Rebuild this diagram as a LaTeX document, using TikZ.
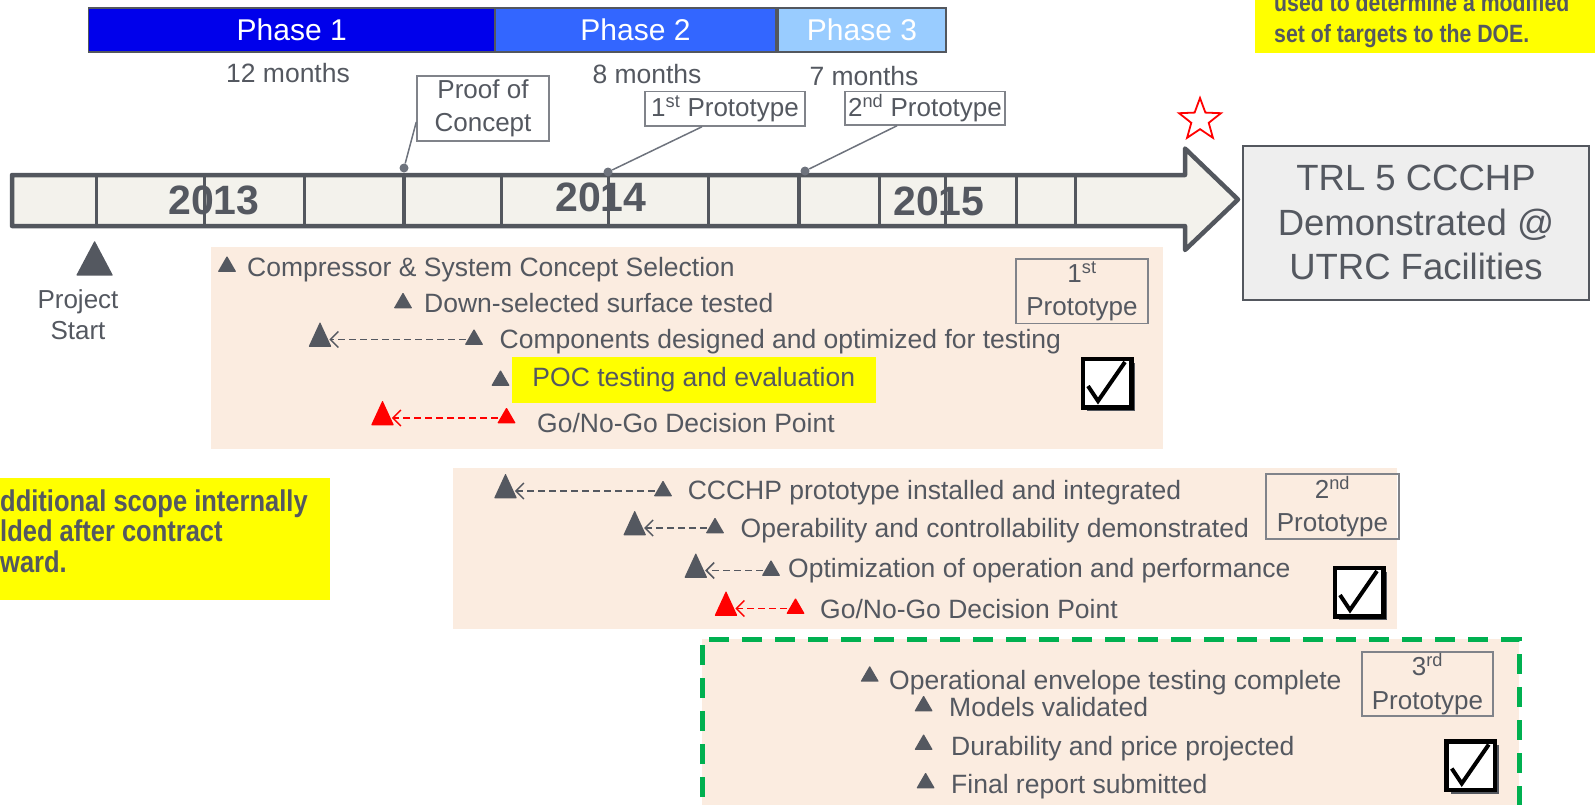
\documentclass[tikz,border=0pt]{standalone}
\usepackage{fontspec}
\setmainfont{Liberation Sans}
\newfontfamily\narrowbold{Liberation Sans Bold}[FakeStretch=0.85]
\usetikzlibrary{positioning,shapes.geometric,arrows.meta,shadows}

\definecolor{txtgray}{RGB}{84,88,96}
\definecolor{linegray}{RGB}{83,87,94}
\definecolor{boxgray}{RGB}{128,131,138}
\definecolor{dotgray}{RGB}{110,115,125}
\definecolor{barfill}{RGB}{243,242,236}
\definecolor{panel}{RGB}{251,236,224}
\definecolor{phaseone}{RGB}{0,0,235}
\definecolor{phasetwo}{RGB}{51,102,255}
\definecolor{phasethree}{RGB}{153,204,255}
\definecolor{hlyellow}{RGB}{255,255,0}
\definecolor{okgreen}{RGB}{0,176,80}
\definecolor{trlfill}{RGB}{238,238,238}

\begin{document}
\begin{tikzpicture}[x=1pt, y=-1pt,
  every node/.style={text=txtgray, font=\fontsize{26.5}{31}\selectfont},
  phase/.style={draw=linegray, line width=1.5pt, minimum height=44pt, inner sep=0pt, text=white, font=\fontsize{30}{36}\selectfont},
  tag/.style={draw=boxgray, line width=1.5pt, align=center, inner sep=0pt, font=\fontsize{26}{32.5}\selectfont},
  dot/.style={circle, fill=dotgray, inner sep=0pt, minimum size=9pt},
  lead/.style={draw=dotgray, line width=1.5pt},
  year/.style={font=\bfseries\fontsize{41}{48}\selectfont, inner sep=0pt},
  ms/.style={isosceles triangle, isosceles triangle stretches, shape border rotate=90, fill=txtgray, inner sep=0pt, minimum width=18.5pt, minimum height=16pt, rounded corners=0.8pt},
  mb/.style={ms, minimum width=23pt, minimum height=25pt},
  item/.style={anchor=base west, inner sep=0pt},
  slip/.style={draw=txtgray, line width=1.5pt, dash pattern=on 7pt off 4pt, -{Straight Barb[length=8pt,width=16pt]}, shorten <=2pt, shorten >=1pt},
  chk/.style={draw=black, line width=4.5pt, fill=white, minimum size=48.5pt, inner sep=0pt,
    drop shadow={shadow xshift=4pt, shadow yshift=-4pt, fill=linegray, opacity=1},
    path picture={\draw[black, line width=4pt, line join=miter]
      ([xshift=-19pt,yshift=-3pt]path picture bounding box.center) --
      ([xshift=-9pt,yshift=-18pt]path picture bounding box.center) --
      ([xshift=18pt,yshift=21pt]path picture bounding box.center);}},
  note/.style={font=\narrowbold\fontsize{30}{30.5}\selectfont, align=left, inner sep=0pt, anchor=north west}
]
\clip (0,0) rectangle (1595,804);

% phases along the top
\node[phase, fill=phaseone, minimum width=406.5pt] (ph1) at (291.75,30) {Phase 1};
\node[phase, fill=phasetwo, minimum width=281pt] (ph2) at (635.5,30) {Phase 2};
\node[phase, fill=phasethree, minimum width=168pt] (ph3) at (862,30) {Phase 3};

\node[anchor=base] (m1) at (288,82.5) {12 months};
\node[anchor=base] (m2) at (647,83.5) {8 months};
\node[anchor=base] (m3) at (864,85.5) {7 months};

% milestone tags above the timeline
\node[tag, minimum width=132pt, minimum height=65pt] (poc) at (483,108.5) {Proof of\\Concept};
\node[tag, minimum width=160pt, minimum height=34.5pt] (p1) at (725,108.75) {1\textsuperscript{st} Prototype};
\node[tag, minimum width=160pt, minimum height=33.5pt] (p2) at (925,108.25) {2\textsuperscript{nd} Prototype};

% timeline arrow
\draw[draw=linegray, fill=barfill, line width=4.5pt, line join=round]
  (12,175) -- (1185,175) -- (1185,148.5) -- (1238,199.5) -- (1185,250) -- (1185,226) -- (12,226) -- cycle;
\foreach \x in {96,204,304,501,608,708,879,945,1016,1075}
  \draw[linegray, line width=3pt] (\x,175) -- (\x,226);
\foreach \x in {404,799}
  \draw[linegray, line width=4.5pt] (\x,175) -- (\x,226);

\node[year] (y1) at (214,200) {2013};
\node[year] (y2) at (601,197) {2014};
\node[year] (y3) at (939,201) {2015};

\node[dot] (d1) at (404,168) {};
\node[dot] (d2) at (608,172) {};
\node[dot] (d3) at (805,171) {};
\draw[lead] ([yshift=-13.5pt]poc.west) -- (d1);
\draw[lead] ([xshift=-23pt]p1.south) -- (d2);
\draw[lead] ([xshift=-28pt]p2.south) -- (d3);

\node[star, star points=5, star point ratio=2.4, draw=red, line width=1.8pt, minimum size=44pt, inner sep=0pt] (goal) at (1200,120) {};

\node[draw=linegray, fill=trlfill, line width=2pt, minimum width=346pt, minimum height=154.5pt, align=center,
  font=\fontsize{36.5}{44.5}\selectfont] (trl) at (1416,222.75) {TRL 5 CCCHP\\Demonstrated @\\UTRC Facilities};

% yellow notes
\fill[hlyellow] (1255,0) rectangle (1600,53);
\node[note, font=\narrowbold\fontsize{25}{31}\selectfont] (n1) at (1274,-7) {used to determine a modified\\set of targets to the DOE.};
\fill[hlyellow] (0,478) rectangle (330,600);
\node[note] (n2) at (0,489.5) {dditional scope internally\\lded after contract\\ward.};

% project start
\node[mb, minimum width=37pt, minimum height=35pt] (start) at (94.6,264.5) {};
\node[align=center, font=\fontsize{26}{31.5}\selectfont] (startlbl) at (78,314.75) {Project\\Start};

% first prototype
\fill[panel] (210.5,247) rectangle (1163,448.6);
\node[ms] (a1m) at (227,266.5) {};
\node[item] (a1) at (247,276) {Compressor \& System Concept Selection};
\node[ms] (a2m) at (403,303) {};
\node[item] (a2) at (424,312.5) {Down-selected surface tested};
\node[mb] (a3o) at (320,339.5) {};
\node[ms] (a3m) at (474,339.5) {};
\node[item] (a3) at (499.5,348.5) {Components designed and optimized for testing};
\draw[slip] (a3m) -- (a3o);
\node[ms] (a4m) at (500.5,380.5) {};
\node[fill=hlyellow, minimum width=364pt, minimum height=46pt, inner sep=0pt, anchor=west] (a4) at (511.6,380) {POC testing and evaluation};
\node[mb, fill=red] (a5o) at (382.5,418) {};
\node[ms, fill=red] (a5m) at (506.5,418) {};
\node[item] (a5) at (537,432.5) {Go/No-Go Decision Point};
\draw[slip, draw=red] (a5m) -- (a5o);
\node[tag, minimum width=132pt, minimum height=64.5pt, font=\fontsize{26}{33.5}\selectfont] (q1) at (1082,291.25) {1\textsuperscript{st}\\Prototype};
\node[chk] (chk1) at (1107,383) {};

% second prototype
\fill[panel] (452.6,468) rectangle (1396.6,628.6);
\node[mb] (b1o) at (505.5,491) {};
\node[ms] (b1m) at (663,491) {};
\node[item] (b1) at (687.6,499.5) {CCCHP prototype installed and integrated};
\draw[slip] (b1m) -- (b1o);
\node[mb] (b2o) at (634.7,528) {};
\node[ms] (b2m) at (715,528) {};
\node[item] (b2) at (740.5,537.5) {Operability and controllability demonstrated};
\draw[slip] (b2m) -- (b2o);
\node[mb] (b3o) at (695.8,570.5) {};
\node[ms] (b3m) at (771,570.5) {};
\node[item] (b3) at (788,577) {Optimization of operation and performance};
\draw[slip] (b3m) -- (b3o);
\node[mb, fill=red] (b4o) at (726,608.5) {};
\node[ms, fill=red] (b4m) at (795.5,608.5) {};
\node[item] (b4) at (820,618.5) {Go/No-Go Decision Point};
\draw[slip, draw=red] (b4m) -- (b4o);
\node[tag, minimum width=133pt, minimum height=65pt, font=\fontsize{26}{33.5}\selectfont] (q2) at (1332.5,506.5) {2\textsuperscript{nd}\\Prototype};
\node[chk] (chk2) at (1359,592) {};

% third prototype
\fill[panel] (702,639) rectangle (1519,830);
\draw[okgreen, line width=5pt, dash pattern=on 20pt off 13pt] (702,830) -- (702,639) -- (1519,639) -- (1519,830);
\node[ms] (c1m) at (869.7,676.4) {};
\node[item] (c1) at (889,689) {Operational envelope testing complete};
\node[ms] (c2m) at (923.6,706) {};
\node[item] (c2) at (949,716.5) {Models validated};
\node[ms] (c3m) at (923.6,744.6) {};
\node[item] (c3) at (951,755) {Durability and price projected};
\node[ms] (c4m) at (925.6,783) {};
\node[item] (c4) at (951,793.5) {Final report submitted};
\node[tag, minimum width=131pt, minimum height=64pt, font=\fontsize{26}{33.5}\selectfont] (q3) at (1427.5,684) {3\textsuperscript{rd}\\Prototype};
\node[chk] (chk3) at (1470.75,765.5) {};

\end{tikzpicture}
\end{document}
